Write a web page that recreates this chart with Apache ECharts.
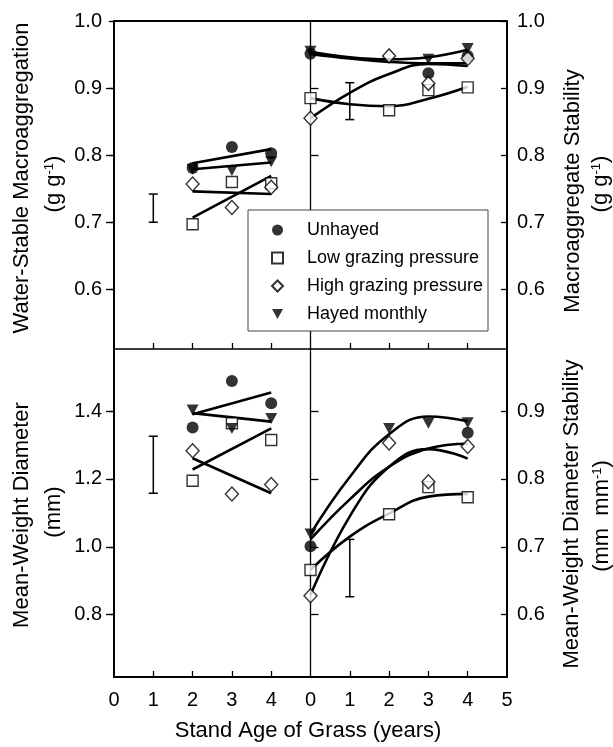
<!DOCTYPE html>
<html><head><meta charset="utf-8">
<script src="https://cdn.jsdelivr.net/npm/echarts@6/dist/echarts.min.js"></script>
<style>html,body{margin:0;padding:0;background:#fff}#c{width:613px;height:747px}</style>
</head><body><div id="c"></div>
<script>
// ---------- DATA ----------
const seriesNames = ['Unhayed', 'Low grazing pressure', 'High grazing pressure', 'Hayed monthly'];
const leftAges = [2, 3, 4];          // stand age (years), left panels
const rightAges = [0, 2, 3, 4];      // stand age (years), right panels
const leftFitAges = [2, 4];
const rightFitAges = [0, 1, 2, 3, 4];

// Top-left: Water-stable macroaggregation (g g-1)
const wsmUnhayed = [0.781, 0.812, 0.803];
const wsmLow     = [0.697, 0.760, 0.758];
const wsmHigh    = [0.757, 0.722, 0.752];
const wsmHayed   = [0.779, 0.777, 0.790];
const wsmFitUnhayed = [0.788, 0.809];
const wsmFitLow     = [0.707, 0.769];
const wsmFitHigh    = [0.746, 0.742];
const wsmFitHayed   = [0.779, 0.789];
const wsmErr = [1, 0.700, 0.742];

// Top-right: Macroaggregate stability (g g-1)
const masUnhayed = [0.951, null, 0.922, 0.948];
const masLow     = [0.885, 0.867, 0.897, 0.901];
const masHigh    = [0.855, 0.948, 0.907, 0.944];
const masHayed   = [0.955, null, 0.943, 0.959];
const masFitUnhayed = [0.951, 0.944, 0.939, 0.937, 0.937];
const masFitLow     = [0.885, 0.876, 0.873, 0.884, 0.902];
const masFitHigh    = [0.855, 0.893, 0.921, 0.936, 0.933];
const masFitHayed   = [0.954, 0.946, 0.943, 0.946, 0.957];
const masErr = [1, 0.853, 0.908];

// Bottom-left: Mean-weight diameter (mm)
const mwdUnhayed = [1.352, 1.489, 1.423];
const mwdLow     = [1.195, 1.364, 1.315];
const mwdHigh    = [1.283, 1.156, 1.184];
const mwdHayed   = [1.403, 1.349, 1.378];
const mwdFitUnhayed = [1.391, 1.455];
const mwdFitLow     = [1.228, 1.349];
const mwdFitHigh    = [1.261, 1.158];
const mwdFitHayed   = [1.394, 1.369];
const mwdErr = [1, 1.158, 1.326];

// Bottom-right: Mean-weight diameter stability (mm mm-1)
const mwsUnhayed = [0.701, null, null, 0.868];
const mwsLow     = [0.666, 0.748, 0.788, 0.773];
const mwsHigh    = [0.628, 0.853, 0.796, 0.848];
const mwsHayed   = [0.719, 0.8745, 0.882, 0.883];
const mwsFitUnhayed = [0.711, 0.770, 0.818, 0.845, 0.852];
const mwsFitLow     = [0.666, 0.715, 0.749, 0.774, 0.778];
const mwsFitHigh    = [0.629, 0.745, 0.818, 0.844, 0.830];
const mwsFitHayed   = [0.719, 0.803, 0.866, 0.892, 0.885];
const mwsErr = [1, 0.6265, 0.711];

// Axis ranges and tick labels
const xRange = [0, 5];
const xLabelsLeft = [0, 1, 2, 3, 4];
const xLabelsRight = [0, 1, 2, 3, 4, 5];
const xInnerTicks = [1, 2, 3, 4];
const topRange = [0.511, 1.0];
const topTicks = [0.6, 0.7, 0.8, 0.9, 1.0];
const bottomLeftRange = [0.6165, 1.583];
const bottomLeftTicks = [0.8, 1.0, 1.2, 1.4];
const bottomRightRange = [0.50825, 0.9915];
const bottomRightTicks = [0.6, 0.7, 0.8, 0.9];

// ---------- CHART ----------
const FONT = '"Liberation Sans", Arial, Helvetica, sans-serif';
const BLACK = '#000';
const chart = echarts.init(document.getElementById('c'), null, {renderer: 'canvas'});

const SYM = {
  'Unhayed': {symbol: 'circle', size: 12, style: {color: BLACK}},
  'Low grazing pressure': {symbol: 'rect', size: 11, style: {color: '#fff', borderColor: BLACK, borderWidth: 1.4}},
  'High grazing pressure': {symbol: 'diamond', size: [13, 14], style: {color: '#fff', borderColor: BLACK, borderWidth: 1.4}},
  'Hayed monthly': {symbol: 'path://M0,0L10,0L5,9Z', size: [12, 11], style: {color: BLACK}}
};

const pairs = (xs, ys) => xs.map((x, i) => [x, ys[i]]).filter(d => d[1] !== null && d[1] !== undefined);

function scatter(name, xs, ys, xi, yi) {
  const s = SYM[name];
  return {type: 'scatter', name, xAxisIndex: xi, yAxisIndex: yi, data: pairs(xs, ys),
    symbol: s.symbol, symbolSize: s.size, itemStyle: s.style, z: 5, silent: true};
}
function fit(xs, ys, xi, yi, smooth) {
  return {type: 'line', xAxisIndex: xi, yAxisIndex: yi, data: pairs(xs, ys), showSymbol: false, symbol: 'none',
    smooth: smooth, lineStyle: {color: BLACK, width: 2.6}, z: 3, silent: true};
}
function errBar(d, xi, yi) {
  return {type: 'custom', xAxisIndex: xi, yAxisIndex: yi, data: [d], silent: true, z: 4,
    encode: {x: 0, y: [1, 2]},
    renderItem: (params, api) => {
      const a = api.coord([api.value(0), api.value(1)]);
      const b = api.coord([api.value(0), api.value(2)]);
      const w = 4.5, st = {stroke: BLACK, lineWidth: 1.5};
      return {type: 'group', children: [
        {type: 'line', shape: {x1: a[0], y1: a[1], x2: b[0], y2: b[1]}, style: st},
        {type: 'line', shape: {x1: a[0] - w, y1: a[1], x2: a[0] + w, y2: a[1]}, style: st},
        {type: 'line', shape: {x1: b[0] - w, y1: b[1], x2: b[0] + w, y2: b[1]}, style: st}
      ]};
    }};
}

const panels = [
  {xi: 0, yi: 0, xs: leftAges, fx: leftFitAges, smooth: false,
   pts: [wsmUnhayed, wsmLow, wsmHigh, wsmHayed], fits: [wsmFitUnhayed, wsmFitLow, wsmFitHigh, wsmFitHayed], err: wsmErr},
  {xi: 2, yi: 3, xs: rightAges, fx: rightFitAges, smooth: 0.45,
   pts: [masUnhayed, masLow, masHigh, masHayed], fits: [masFitUnhayed, masFitLow, masFitHigh, masFitHayed], err: masErr},
  {xi: 4, yi: 4, xs: leftAges, fx: leftFitAges, smooth: false,
   pts: [mwdUnhayed, mwdLow, mwdHigh, mwdHayed], fits: [mwdFitUnhayed, mwdFitLow, mwdFitHigh, mwdFitHayed], err: mwdErr},
  {xi: 5, yi: 7, xs: rightAges, fx: rightFitAges, smooth: 0.45,
   pts: [mwsUnhayed, mwsLow, mwsHigh, mwsHayed], fits: [mwsFitUnhayed, mwsFitLow, mwsFitHigh, mwsFitHayed], err: mwsErr}
];

const series = [];
panels.forEach(p => {
  p.fits.forEach(f => series.push(fit(p.fx, f, p.xi, p.yi, p.smooth)));
  series.push(errBar(p.err, p.xi, p.yi));
  seriesNames.forEach((n, k) => series.push(scatter(n, p.xs, p.pts[k], p.xi, p.yi)));
});

const labelStyle = {color: BLACK, fontFamily: FONT, fontSize: 20};
const fmt1 = v => Number(v).toFixed(1);

function xAx(grid, pos, opts) {
  return Object.assign({type: 'value', gridIndex: grid, position: pos, min: xRange[0], max: xRange[1],
    axisLine: {show: true, onZero: false, lineStyle: {color: BLACK, width: 2}},
    axisTick: {show: false}, axisLabel: {show: false}, splitLine: {show: false}}, opts);
}
function yAx(grid, pos, range, opts) {
  return Object.assign({type: 'value', gridIndex: grid, position: pos, min: range[0], max: range[1],
    axisLine: {show: true, onZero: false, lineStyle: {color: BLACK, width: 2}},
    axisTick: {show: false}, axisLabel: {show: false}, splitLine: {show: false}}, opts);
}
const innerTick = (vals, len) => ({show: true, inside: true, length: len, customValues: vals, lineStyle: {color: BLACK, width: 1.3}});
const outerTick = (vals, len) => ({show: true, inside: false, length: len, customValues: vals, lineStyle: {color: BLACK, width: 1.3}});

const xAxis = [
  xAx(0, 'bottom', {axisLine: {show: true, onZero: false, lineStyle: {color: BLACK, width: 1.6}}, axisTick: innerTick(xInnerTicks, 6)}),
  xAx(0, 'top', {}),
  xAx(1, 'bottom', {axisLine: {show: true, onZero: false, lineStyle: {color: BLACK, width: 1.6}}, axisTick: innerTick(xInnerTicks, 6)}),
  xAx(1, 'top', {}),
  xAx(2, 'bottom', {axisTick: innerTick(xInnerTicks, 6),
    axisLabel: Object.assign({show: true, margin: 13, customValues: xLabelsLeft}, labelStyle)}),
  xAx(3, 'bottom', {axisTick: innerTick(xInnerTicks, 6),
    axisLabel: Object.assign({show: true, margin: 13, customValues: xLabelsRight}, labelStyle)})
];
const yAxis = [
  yAx(0, 'left', topRange, {axisTick: outerTick(topTicks, 5),
    axisLabel: Object.assign({show: true, margin: 12, customValues: topTicks, formatter: fmt1}, labelStyle)}),
  yAx(0, 'right', topRange, {axisLine: {show: false}, axisTick: innerTick(topTicks.slice(0, 4), 8)}),
  yAx(1, 'left', topRange, {axisLine: {show: true, onZero: false, lineStyle: {color: BLACK, width: 1.3}}, axisTick: innerTick(topTicks.slice(0, 4), 8)}),
  yAx(1, 'right', topRange, {axisTick: innerTick(topTicks, 6),
    axisLabel: Object.assign({show: true, margin: 10, customValues: topTicks, formatter: fmt1}, labelStyle)}),
  yAx(2, 'left', bottomLeftRange, {axisTick: outerTick(bottomLeftTicks, 5),
    axisLabel: Object.assign({show: true, margin: 12, customValues: bottomLeftTicks, formatter: fmt1}, labelStyle)}),
  yAx(2, 'right', bottomLeftRange, {axisLine: {show: false}, axisTick: innerTick(bottomLeftTicks, 8)}),
  yAx(3, 'left', bottomRightRange, {axisLine: {show: true, onZero: false, lineStyle: {color: BLACK, width: 1.3}}, axisTick: innerTick(bottomRightTicks, 8)}),
  yAx(3, 'right', bottomRightRange, {axisTick: innerTick(bottomRightTicks, 6),
    axisLabel: Object.assign({show: true, margin: 10, customValues: bottomRightTicks, formatter: fmt1}, labelStyle)})
];

const grid = [
  {left: 114, top: 21, width: 196.5, height: 328},
  {left: 310.5, top: 21, width: 196.5, height: 328},
  {left: 114, top: 349, width: 196.5, height: 328},
  {left: 310.5, top: 349, width: 196.5, height: 328}
];

const titleText = (txt, x, y) => ({type: 'text', x, y, rotation: Math.PI / 2, z: 10,
  style: {text: txt, fontSize: 22, fontFamily: FONT, fill: BLACK, align: 'center', verticalAlign: 'middle',
    rich: {sup: {fontSize: 13, fontFamily: FONT, fill: BLACK, verticalAlign: 'top'}}}});

const graphic = [
  titleText('Water-Stable Macroaggregation', 22, 178),
  titleText('(g g{sup|-1})', 54, 184),
  titleText('Mean-Weight Diameter', 22, 515),
  titleText('(mm)', 54, 512),
  titleText('Macroaggregate Stability', 573, 191),
  titleText('(g g{sup|-1})', 601, 184),
  titleText('Mean-Weight Diameter Stability', 572, 514),
  titleText('(mm  mm{sup|-1})', 602, 516),
  {type: 'text', x: 308, y: 731, z: 10,
   style: {text: 'Stand Age of Grass (years)', fontSize: 22, fontFamily: FONT, fill: BLACK, align: 'center', verticalAlign: 'middle'}},
  {type: 'rect', z: 50, shape: {x: 248, y: 210, width: 240, height: 121},
   style: {fill: '#fff', stroke: '#444', lineWidth: 1}}
];

chart.setOption({
  backgroundColor: '#fff',
  animation: false,
  grid, xAxis, yAxis, series, graphic,
  legend: {
    orient: 'vertical', left: 271, top: 221, padding: 0, itemGap: 10, itemWidth: 11, itemHeight: 11,
    selectedMode: false, z: 60,
    textStyle: {color: BLACK, fontFamily: FONT, fontSize: 18, padding: [0, 0, 0, 19]},
    data: seriesNames.map(n => ({name: n, icon: SYM[n].symbol}))
  }
});
</script>
</body></html>
